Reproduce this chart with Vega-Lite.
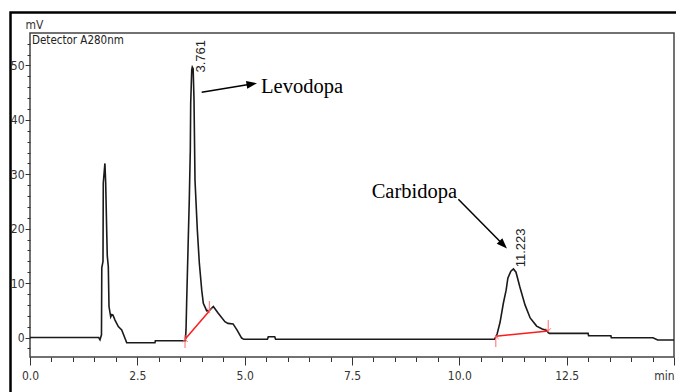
{
  "$schema": "https://vega.github.io/schema/vega-lite/v6.json",
  "width": 644,
  "height": 324,
  "autosize": {"type": "none"},
  "padding": {"left": 30, "top": 33, "right": 2, "bottom": 35},
  "background": "white",
  "config": {
    "view": {"stroke": "#444", "strokeWidth": 1.5},
    "axis": {
      "grid": false,
      "domain": false,
      "tickColor": "#333",
      "tickWidth": 1,
      "labelColor": "#333",
      "labelFont": "\"Liberation Sans Narrow\", \"DejaVu Sans Condensed\", \"Liberation Sans\", sans-serif",
      "labelFontSize": 12,
      "titleFont": "\"Liberation Sans Narrow\", \"DejaVu Sans Condensed\", \"Liberation Sans\", sans-serif",
      "titleColor": "#333"
    }
  },
  "datasets": {
    "trace": [
      {"t": 0, "mV": 0}, {"t": 1.6, "mV": 0}, {"t": 1.63, "mV": -0.4}, {"t": 1.665, "mV": 0.5},
      {"t": 1.672, "mV": 12.8}, {"t": 1.7, "mV": 14}, {"t": 1.707, "mV": 28.4}, {"t": 1.745, "mV": 32.0},
      {"t": 1.763, "mV": 28.4}, {"t": 1.787, "mV": 19.4}, {"t": 1.8, "mV": 15}, {"t": 1.824, "mV": 13.0},
      {"t": 1.84, "mV": 5.7}, {"t": 1.88, "mV": 3.8}, {"t": 1.905, "mV": 4.2}, {"t": 1.933, "mV": 4.1},
      {"t": 1.98, "mV": 3.2}, {"t": 2.057, "mV": 2.0}, {"t": 2.136, "mV": 1.4}, {"t": 2.253, "mV": -0.96},
      {"t": 2.91, "mV": -0.96}, {"t": 2.92, "mV": -0.59}, {"t": 3.618, "mV": -0.59}, {"t": 3.634, "mV": 1.4},
      {"t": 3.65, "mV": 6.9}, {"t": 3.68, "mV": 16.1}, {"t": 3.71, "mV": 25.3}, {"t": 3.734, "mV": 34.5},
      {"t": 3.743, "mV": 43.1}, {"t": 3.767, "mV": 49.2}, {"t": 3.78, "mV": 49.7}, {"t": 3.8, "mV": 49.4},
      {"t": 3.82, "mV": 43.7}, {"t": 3.843, "mV": 28.95}, {"t": 3.897, "mV": 19.8}, {"t": 3.944, "mV": 13.7},
      {"t": 4.0, "mV": 8.7}, {"t": 4.037, "mV": 6.3}, {"t": 4.116, "mV": 4.9}, {"t": 4.18, "mV": 4.95},
      {"t": 4.27, "mV": 5.7}, {"t": 4.38, "mV": 4.5}, {"t": 4.54, "mV": 2.9}, {"t": 4.61, "mV": 2.6},
      {"t": 4.73, "mV": 2.5}, {"t": 4.82, "mV": 1.4}, {"t": 4.93, "mV": -0.1}, {"t": 4.98, "mV": -0.33},
      {"t": 5.53, "mV": -0.33}, {"t": 5.55, "mV": 0.15}, {"t": 5.7, "mV": 0.15}, {"t": 5.72, "mV": -0.33},
      {"t": 10.82, "mV": -0.33}, {"t": 10.88, "mV": 0.64}, {"t": 10.95, "mV": 2.85}, {"t": 11.025, "mV": 6.3},
      {"t": 11.09, "mV": 8.7}, {"t": 11.13, "mV": 10.9}, {"t": 11.2, "mV": 12.2}, {"t": 11.26, "mV": 12.6},
      {"t": 11.32, "mV": 12.0}, {"t": 11.41, "mV": 9.3}, {"t": 11.53, "mV": 6.0}, {"t": 11.65, "mV": 3.6},
      {"t": 11.8, "mV": 2.1}, {"t": 11.93, "mV": 1.56}, {"t": 12.04, "mV": 1.29}, {"t": 12.07, "mV": 0.9},
      {"t": 12.1, "mV": 0.77}, {"t": 13.0, "mV": 0.77}, {"t": 13.01, "mV": 0.33}, {"t": 13.53, "mV": 0.33},
      {"t": 13.54, "mV": -0.04}, {"t": 14.51, "mV": -0.04}, {"t": 14.62, "mV": -0.46}, {"t": 15.0, "mV": -0.46}
    ],
    "base": [
      {"seg": "Levodopa", "t": 3.611, "mV": -0.33}, {"seg": "Levodopa", "t": 4.177, "mV": 4.87},
      {"seg": "Carbidopa", "t": 10.85, "mV": 0.25}, {"seg": "Carbidopa", "t": 12.07, "mV": 1.2}
    ],
    "markers": [
      {"t": 3.611, "lo": -1.93, "hi": 0.46}, {"t": 4.177, "lo": 4.5, "hi": 6.7},
      {"t": 10.85, "lo": -1.75, "hi": 0.46}, {"t": 12.07, "lo": 1.0, "hi": 3.2}
    ],
    "heads": [
      {"dir": "start", "t": 3.611, "mV": -0.33}, {"dir": "end", "t": 4.177, "mV": 4.87},
      {"dir": "start", "t": 10.85, "mV": 0.25}, {"dir": "end", "t": 12.07, "mV": 1.2}
    ],
    "arrows": [
      {"name": "Levodopa", "t": 3.999, "mV": 45.07, "t2": 5.166, "mV2": 46.58},
      {"name": "Carbidopa", "t": 9.977, "mV": 25.4, "t2": 11.023, "mV2": 17.06}
    ],
    "names": [
      {"name": "Levodopa", "t": 5.381, "mV": 44.9},
      {"name": "Carbidopa", "t": 7.958, "mV": 25.64}
    ],
    "peaks": [
      {"label": "3.761", "t": 3.761, "mV": 48.7},
      {"label": "11.223", "t": 11.223, "mV": 12.9}
    ],
    "frame": [{"x0": -0.454, "x1": 20, "y0": -20, "y1": 59.74}],
    "detector": [{"text": "Detector A280nm", "t": 0, "mV": 55.97}]
  },
  "layer": [
    {
      "data": {"name": "frame"},
      "mark": {"type": "rect", "filled": false, "stroke": "black", "strokeWidth": 2.5, "clip": false},
      "encoding": {
        "x": {"field": "x0", "type": "quantitative", "axis": null, "scale": {"domain": [0, 15], "nice": false, "zero": false}},
        "x2": {"field": "x1"},
        "y": {"field": "y0", "type": "quantitative", "axis": null, "scale": {"domain": [-3.58, 55.97], "nice": false, "zero": false}},
        "y2": {"field": "y1"}
      }
    },
    {
      "data": {"name": "trace"},
      "mark": {"type": "line", "color": "#1a1a1a", "strokeWidth": 1.6, "interpolate": "linear"},
      "encoding": {
        "x": {
          "field": "t", "type": "quantitative",
          "scale": {"domain": [0, 15], "nice": false, "zero": false},
          "axis": {
            "orient": "bottom",
            "values": [0, 2.5, 5, 7.5, 10, 12.5, 15],
            "tickSize": 8,
            "labelPadding": 5,
            "labelExpr": "datum.value == 15 ? 'min' : format(datum.value, '.1f')",
            "labelAlign": {"condition": {"test": "datum.value == 15", "value": "right"}, "value": "center"},
            "title": null
          }
        },
        "y": {
          "field": "mV", "type": "quantitative",
          "scale": {"domain": [-3.58, 55.97], "nice": false, "zero": false},
          "axis": {
            "orient": "left",
            "values": [0, 10, 20, 30, 40, 50],
            "tickSize": 5,
            "labelPadding": 1,
            "title": "mV",
            "titleAngle": 0,
            "titleX": -5,
            "titleY": -2,
            "titleAlign": "left",
            "titleBaseline": "bottom",
            "titleFontWeight": "normal",
            "titleFontSize": 12
          }
        }
      }
    },
    {
      "data": {"name": "base"},
      "mark": {"type": "line", "color": "#ff1a1a", "strokeWidth": 1.5},
      "encoding": {
        "detail": {"field": "seg"},
        "x": {
          "field": "t", "type": "quantitative",
          "scale": {"domain": [0, 15], "nice": false, "zero": false},
          "axis": {
            "orient": "bottom",
            "values": [0, 0.5, 1, 1.5, 2, 2.5, 3, 3.5, 4, 4.5, 5, 5.5, 6, 6.5, 7, 7.5, 8, 8.5, 9, 9.5, 10, 10.5, 11, 11.5, 12, 12.5, 13, 13.5, 14, 14.5],
            "tickSize": 4.5,
            "labels": false,
            "title": null
          }
        },
        "y": {
          "field": "mV", "type": "quantitative",
          "scale": {"domain": [-3.58, 55.97], "nice": false, "zero": false},
          "axis": {
            "orient": "left",
            "values": [-2, 2, 4, 6, 8, 12, 14, 16, 18, 22, 24, 26, 28, 32, 34, 36, 38, 42, 44, 46, 48, 52, 54],
            "tickSize": 3,
            "labels": false,
            "title": null
          }
        }
      }
    },
    {
      "data": {"name": "markers"},
      "mark": {"type": "rule", "color": "#ff6a6a", "strokeWidth": 1},
      "encoding": {
        "x": {"field": "t", "type": "quantitative", "axis": null, "scale": {"domain": [0, 15], "nice": false, "zero": false}},
        "y": {"field": "lo", "type": "quantitative", "axis": null, "scale": {"domain": [-3.58, 55.97], "nice": false, "zero": false}},
        "y2": {"field": "hi"}
      }
    },
    {
      "data": {"name": "heads"},
      "mark": {"type": "point", "filled": false, "color": "#ff6a6a", "strokeWidth": 1, "size": 30, "opacity": 1},
      "encoding": {
        "x": {"field": "t", "type": "quantitative", "axis": null, "scale": {"domain": [0, 15], "nice": false, "zero": false}},
        "y": {"field": "mV", "type": "quantitative", "axis": null, "scale": {"domain": [-3.58, 55.97], "nice": false, "zero": false}},
        "shape": {"field": "dir", "type": "nominal", "legend": null, "scale": {"domain": ["start", "end"], "range": ["M-1,1L0,0L1,1", "M-1,-1L0,0L1,-1"]}}
      }
    },
    {
      "data": {"name": "arrows"},
      "mark": {"type": "rule", "color": "black", "strokeWidth": 1.5},
      "encoding": {
        "x": {"field": "t", "type": "quantitative", "axis": null, "scale": {"domain": [0, 15], "nice": false, "zero": false}},
        "y": {"field": "mV", "type": "quantitative", "axis": null, "scale": {"domain": [-3.58, 55.97], "nice": false, "zero": false}},
        "x2": {"field": "t2"},
        "y2": {"field": "mV2"}
      }
    },
    {
      "data": {"name": "arrows"},
      "transform": [{"filter": "datum.name == 'Levodopa'"}],
      "mark": {"type": "point", "shape": "M-1,-0.75L1,0L-1,0.75Z", "size": 110, "filled": true, "color": "black", "opacity": 1, "angle": 351},
      "encoding": {
        "x": {"field": "t2", "type": "quantitative", "axis": null, "scale": {"domain": [0, 15], "nice": false, "zero": false}},
        "y": {"field": "mV2", "type": "quantitative", "axis": null, "scale": {"domain": [-3.58, 55.97], "nice": false, "zero": false}}
      }
    },
    {
      "data": {"name": "arrows"},
      "transform": [{"filter": "datum.name == 'Carbidopa'"}],
      "mark": {"type": "point", "shape": "M-1,-0.75L1,0L-1,0.75Z", "size": 110, "filled": true, "color": "black", "opacity": 1, "angle": 45},
      "encoding": {
        "x": {"field": "t2", "type": "quantitative", "axis": null, "scale": {"domain": [0, 15], "nice": false, "zero": false}},
        "y": {"field": "mV2", "type": "quantitative", "axis": null, "scale": {"domain": [-3.58, 55.97], "nice": false, "zero": false}}
      }
    },
    {
      "data": {"name": "names"},
      "mark": {"type": "text", "font": "Liberation Serif", "fontSize": 20.5, "color": "black", "align": "left", "baseline": "alphabetic"},
      "encoding": {
        "x": {"field": "t", "type": "quantitative", "axis": null, "scale": {"domain": [0, 15], "nice": false, "zero": false}},
        "y": {"field": "mV", "type": "quantitative", "axis": null, "scale": {"domain": [-3.58, 55.97], "nice": false, "zero": false}},
        "text": {"field": "name"}
      }
    },
    {
      "data": {"name": "peaks"},
      "mark": {"type": "text", "font": "Liberation Sans", "fontSize": 13, "color": "#222", "align": "left", "baseline": "middle", "angle": 270, "dy": 9.5},
      "encoding": {
        "x": {"field": "t", "type": "quantitative", "axis": null, "scale": {"domain": [0, 15], "nice": false, "zero": false}},
        "y": {"field": "mV", "type": "quantitative", "axis": null, "scale": {"domain": [-3.58, 55.97], "nice": false, "zero": false}},
        "text": {"field": "label"}
      }
    },
    {
      "data": {"name": "detector"},
      "mark": {"type": "text", "font": "\"Liberation Sans Narrow\", \"DejaVu Sans Condensed\", \"Liberation Sans\", sans-serif", "fontSize": 11.5, "color": "#222", "align": "left", "baseline": "top", "dx": 2, "dy": 2},
      "encoding": {
        "x": {"field": "t", "type": "quantitative", "axis": null, "scale": {"domain": [0, 15], "nice": false, "zero": false}},
        "y": {"field": "mV", "type": "quantitative", "axis": null, "scale": {"domain": [-3.58, 55.97], "nice": false, "zero": false}},
        "text": {"field": "text"}
      }
    }
  ],
  "resolve": {"axis": {"x": "independent", "y": "independent"}}
}
